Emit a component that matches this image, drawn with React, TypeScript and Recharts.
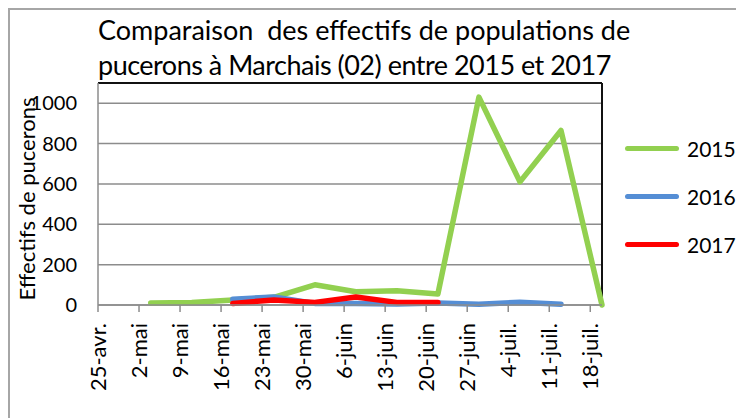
import React from 'react'
import { LineChart, Line, XAxis, YAxis, CartesianGrid, ReferenceLine } from 'recharts'

// jours comptés depuis le 25 avril (axe de dates, pas de 7 jours)
const TICK_DAYS = [0, 7, 14, 21, 28, 35, 42, 49, 56, 63, 70, 77, 84]
const TICK_LABELS = ['25-avr.', '2-mai', '9-mai', '16-mai', '23-mai', '30-mai', '6-juin', '13-juin', '20-juin', '27-juin', '4-juil.', '11-juil.', '18-juil.']
const Y_TICKS = [0, 200, 400, 600, 800, 1000]

const DAYS_2015 = [9, 16, 23, 30, 37, 44, 51, 58, 65, 72, 79, 86]
const VALS_2015 = [10, 12, 25, 38, 100, 66, 71, 55, 1030, 610, 865, 0]
const DAYS_2016 = [23, 30, 37, 44, 51, 58, 65, 72, 79]
const VALS_2016 = [28, 40, 8, 7, 5, 10, 4, 14, 4]
const DAYS_2017 = [23, 30, 37, 44, 51, 58]
const VALS_2017 = [8, 25, 13, 40, 13, 13]

const SERIES = [
  { name: '2015', color: '#92d050', days: DAYS_2015, vals: VALS_2015 },
  { name: '2016', color: '#558ed5', days: DAYS_2016, vals: VALS_2016 },
  { name: '2017', color: '#ff0000', days: DAYS_2017, vals: VALS_2017 },
]

const FONT = 'Lato, "Open Sans", sans-serif'

function DateTick(props: any) {
  const { x, payload } = props
  const i = TICK_DAYS.indexOf(payload.value)
  return (
    <g transform={`translate(${x},323) rotate(-90)`}>
      <text textAnchor="end" dy="0.36em" fontSize={22} fontFamily={FONT} fill="#000">
        {TICK_LABELS[i]}
      </text>
    </g>
  )
}

export default function App() {
  return (
    <div style={styles.page}>
      <style>{'body{margin:0;overflow:hidden}'}</style>
      <div style={styles.frame} />
      <div style={styles.title}>
        <div>Comparaison&nbsp; des effectifs de populations de</div>
        <div style={{ letterSpacing: -0.5 }}>pucerons à Marchais (02) entre 2015 et 2017</div>
      </div>

      <LineChart width={736} height={418} margin={{ top: 83, right: 134, bottom: 0, left: 0 }}>
        <CartesianGrid horizontal vertical={false} stroke="#8c8c8c" strokeWidth={1.5} />
        <XAxis
          dataKey="d" type="number" domain={[0, 86]} ticks={TICK_DAYS} interval={0}
          height={113} stroke="#8c8c8c" strokeWidth={1.5} tickSize={7}
          tick={<DateTick />}
        />
        <YAxis
          type="number" domain={[0, 1100]} ticks={Y_TICKS} width={98}
          stroke="#8c8c8c" strokeWidth={1.5} tickLine={false} tickSize={0} tickMargin={21}
          tick={{ fontSize: 20, fontFamily: FONT, fill: '#000' }}
          label={{
            content: () => (
              <text x={35} y={199} transform="rotate(-90,35,199)" textAnchor="middle"
                fontSize={22} fontFamily={FONT} fill="#000">
                Effectifs de pucerons
              </text>
            ),
          }}
        />
        <ReferenceLine y={1100} stroke="#111" strokeWidth={2} />
        <ReferenceLine x={86} stroke="#111" strokeWidth={2} />
        {SERIES.map(s => (
          <Line
            key={s.name} name={s.name}
            data={s.days.map((d, i) => ({ d, v: s.vals[i] }))}
            dataKey="v" stroke={s.color} strokeWidth={5.5}
            strokeLinecap="round" strokeLinejoin="round"
            dot={false} activeDot={false} isAnimationActive={false}
          />
        ))}
      </LineChart>

      {SERIES.map((s, i) => (
        <div key={s.name} style={{ ...styles.legendItem, top: 148 + i * 48 - 14 }}>
          <span style={{ ...styles.legendLine, background: s.color }} />
          <span>{s.name}</span>
        </div>
      ))}
    </div>
  )
}

const styles: Record<string, React.CSSProperties> = {
  page: { position: 'relative', width: 736, height: 418, background: '#fff', overflow: 'hidden', fontFamily: FONT },
  frame: {
    position: 'absolute', left: 8, top: 8, width: 760, height: 440,
    borderTop: '2px solid #a6a6a6', borderLeft: '2px solid #a6a6a6',
  },
  title: {
    position: 'absolute', left: 98, top: 12, fontSize: 27, lineHeight: '35px',
    color: '#000', whiteSpace: 'nowrap',
  },
  legendItem: {
    position: 'absolute', left: 625, height: 28, display: 'flex', alignItems: 'center',
    fontSize: 21, color: '#000',
  },
  legendLine: { display: 'inline-block', width: 54, height: 5, borderRadius: 3, marginRight: 8 },
}
